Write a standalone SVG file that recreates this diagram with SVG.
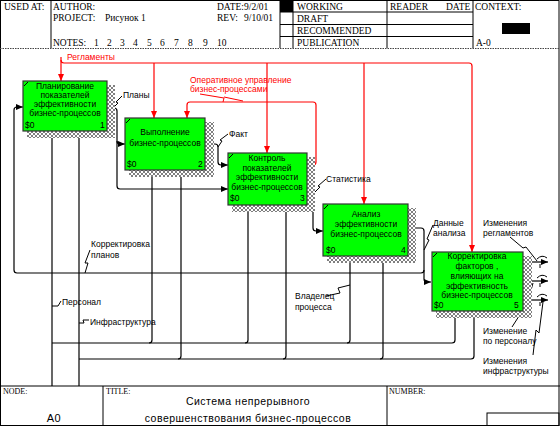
<svg xmlns="http://www.w3.org/2000/svg" width="560" height="426" viewBox="0 0 560 426">
<style>
.hd{font-family:"Liberation Serif",serif;font-size:9.5px;fill:#000}
.sm{font-family:"Liberation Serif",serif;font-size:8px;fill:#000}
.bx{font-family:"Liberation Sans",Arial,sans-serif;font-size:8.5px;fill:#000;text-anchor:middle}
.lb{font-family:"Liberation Sans",Arial,sans-serif;font-size:8.5px;fill:#000}
.rl{font-family:"Liberation Sans",Arial,sans-serif;font-size:8.5px;fill:#ff0000}
.num{font-family:"Liberation Sans",Arial,sans-serif;font-size:8.5px;fill:#000}
.ft{font-family:"Liberation Sans",Arial,sans-serif;font-size:10.5px;fill:#000;letter-spacing:0.5px;text-anchor:middle}
.fr{fill:none;stroke:#000;stroke-width:1}
.c{fill:none;stroke:#000;stroke-width:1.2}
.r{fill:none;stroke:#ff0000;stroke-width:1.2}
.ca{fill:none;stroke:#000;stroke-width:1.2;marker-end:url(#ah)}
.ra{fill:none;stroke:#ff0000;stroke-width:1.2;marker-end:url(#rh)}
.sq{fill:none;stroke:#000;stroke-width:1}
.box{fill:#00ff00;stroke:#333;stroke-width:1.2}
.sh{fill:url(#hatch)}
</style>
<defs>
<pattern id="hatch" width="4" height="4" patternUnits="userSpaceOnUse">
<rect width="4" height="4" fill="#fff"/>
<path d="M0,0 L4,4 M4,0 L0,4" stroke="#000" stroke-width="0.5"/>
</pattern>
<marker id="ah" markerWidth="7" markerHeight="6" refX="7" refY="3" orient="auto" markerUnits="userSpaceOnUse">
<path d="M0,0 L7,3 L0,6 z" fill="#000"/>
</marker>
<marker id="rh" markerWidth="7" markerHeight="6" refX="7" refY="3" orient="auto" markerUnits="userSpaceOnUse">
<path d="M0,0 L7,3 L0,6 z" fill="#ff0000"/>
</marker>
</defs>

<g id="frame">
<rect x="0.5" y="0.5" width="558.5" height="425" class="fr"/>
<line x1="51" y1="0" x2="51" y2="48" class="fr"/>
<line x1="280" y1="0" x2="280" y2="48" class="fr"/>
<line x1="293" y1="0" x2="293" y2="48" class="fr"/>
<line x1="387" y1="0" x2="387" y2="48" class="fr"/>
<line x1="473" y1="0" x2="473" y2="48" class="fr"/>
<line x1="280" y1="12" x2="473" y2="12" class="fr"/>
<line x1="280" y1="24.5" x2="473" y2="24.5" class="fr"/>
<line x1="280" y1="36.5" x2="473" y2="36.5" class="fr"/>
<rect x="280" y="0" width="13" height="12" fill="#000"/>
<rect x="502" y="23" width="28" height="11" fill="#000"/>
<line x1="0" y1="48.5" x2="560" y2="48.5" stroke="#444" stroke-width="1" stroke-dasharray="1.5,1"/>
<text x="4" y="10" class="hd">USED AT:</text>
<text x="53" y="10" class="hd">AUTHOR:</text>
<text x="53" y="21" class="hd">PROJECT:</text>
<text x="105" y="21" class="hd">Рисунок 1</text>
<text x="217" y="10" class="hd">DATE:</text>
<text x="244" y="10" class="hd">9/2/01</text>
<text x="217" y="21" class="hd">REV:</text>
<text x="244" y="21" class="hd">9/10/01</text>
<text x="53" y="46" class="hd">NOTES:</text>
<text x="94" y="46" class="hd">1</text>
<text x="107" y="46" class="hd">2</text>
<text x="120" y="46" class="hd">3</text>
<text x="133" y="46" class="hd">4</text>
<text x="147" y="46" class="hd">5</text>
<text x="160" y="46" class="hd">6</text>
<text x="174" y="46" class="hd">7</text>
<text x="188" y="46" class="hd">8</text>
<text x="203" y="46" class="hd">9</text>
<text x="217" y="46" class="hd">10</text>
<text x="297" y="10" class="hd">WORKING</text>
<text x="297" y="22" class="hd">DRAFT</text>
<text x="297" y="34" class="hd">RECOMMENDED</text>
<text x="297" y="46" class="hd">PUBLICATION</text>
<text x="390" y="10" class="hd">READER</text>
<text x="446" y="10" class="hd">DATE</text>
<text x="475" y="10" class="hd">CONTEXT:</text>
<text x="476" y="46" class="hd">A-0</text>
<line x1="0" y1="386" x2="560" y2="386" class="fr"/>
<line x1="103" y1="386" x2="103" y2="426" class="fr"/>
<line x1="387" y1="386" x2="387" y2="426" class="fr"/>
<rect x="487" y="413" width="72" height="13" class="fr"/>
<text x="3" y="394" class="sm">NODE:</text>
<text x="106" y="394" class="sm">TITLE:</text>
<text x="389" y="394" class="sm">NUMBER:</text>
<text x="54" y="422" class="ft" style="font-size:11px">A0</text>
<text x="248" y="405" class="ft">Система  непрерывного</text>
<text x="248" y="422" class="ft">совершенствования  бизнес-процессов</text>
</g>

<g id="connectors">
<path d="M61,57 V81" class="ra"/>
<path d="M61,60 Q61,63 64,63 H469 Q472,63 472,66 V252" class="ra"/>
<path d="M154,63 V118" class="ra"/>
<path d="M267,63 V153" class="ra"/>
<path d="M364,63 V204" class="ra"/>
<path d="M307,165 H313 Q316,165 316,162 V105 Q316,102 313,102 H190 Q187,102 187,105 V118" class="ra"/>
<path d="M107,108 H114 Q117,108 117,111 V186 Q117,189 120,189 H228" class="ca"/>
<path d="M117,141 Q117,144 120,144 H125" class="ca"/>
<path d="M205,144 H215 Q218,144 218,147 V162 Q218,165 221,165 H228" class="ca"/>
<path d="M307,190 H310 Q313,190 313,193 V228 Q313,231 316,231 H323" class="ca"/>
<path d="M408,228 H421 Q424,228 424,231 V279 Q424,282 427,282 H431" class="ca"/>
<path d="M424,270 Q424,273 421,273 H17 Q14,273 14,270 V110 Q14,107 17,107 H23" class="ca"/>
<path d="M52,386 V131" class="ca"/>
<path d="M52,343 H452 Q455,343 455,340 V311" class="ca"/>
<path d="M149,343 Q152,343 152,340 V170" class="ca"/>
<path d="M245,343 Q248,343 248,340 V205" class="ca"/>
<path d="M347,343 Q350,343 350,340 V256" class="ca"/>
<path d="M79,386 V131" class="ca"/>
<path d="M79,359 H471 Q474,359 474,356 V311" class="ca"/>
<path d="M178,359 Q181,359 181,356 V170" class="ca"/>
<path d="M283,359 Q286,359 286,356 V205" class="ca"/>
<path d="M380,359 Q383,359 383,356 V256" class="ca"/>
<path d="M523,262 H548" class="ca"/>
<path d="M523,281 H548" class="ca"/>
<path d="M523,300 H548" class="ca"/>
<path d="M537,259 Q542,254 547,258 M540,264 V268" class="sq"/>
<path d="M537,278 Q542,273 547,277 M540,283 V287" class="sq"/>
<path d="M537,297 Q542,292 547,296 M540,302 V306" class="sq"/>
<path d="M200,94 L224,98 L223,102 M224,97 L243,101" class="r" style="stroke-width:1"/>
<path d="M113,108 L118,103 L116,102 L122,96" class="sq"/>
<path d="M218,147 L222,141 L220,140 L228,134" class="sq"/>
<path d="M314,193 L320,187 L318,186 L326,179" class="sq"/>
<path d="M424,250 L429,240 L427,239 L433,225" class="sq"/>
<path d="M510,237 L523,248 L526,247 L537,261" class="sq"/>
<path d="M512,327 L521,313 L525,312 L533,283" class="sq"/>
<path d="M533,355 L536,330 L539,333 L543,302" class="sq"/>
<path d="M85,273 L88,263 L85,263 L90,250" class="sq"/>
<path d="M52,306 H58 L61,301" class="sq"/>
<path d="M79,323 H84 L83,320 L89,320" class="sq"/>
<path d="M326,296 L340,293 L338,288 L350,285" class="sq"/>
</g>

<g id="labels">
<text x="67" y="60" class="rl">Регламенты</text>
<text x="190" y="83" class="rl">Оперативное управление</text>
<text x="190" y="92" class="rl">бизнес-процессами</text>
<text x="123" y="98" class="lb">Планы</text>
<text x="229" y="137" class="lb">Факт</text>
<text x="326" y="182" class="lb">Статистика</text>
<text x="433" y="226" class="lb">Данные</text>
<text x="433" y="236" class="lb">анализа</text>
<text x="483" y="226" class="lb">Изменения</text>
<text x="483" y="236" class="lb">регламентов</text>
<text x="483" y="334" class="lb">Изменение</text>
<text x="483" y="344" class="lb">по персоналу</text>
<text x="483" y="364" class="lb">Изменения</text>
<text x="483" y="374" class="lb">инфраструктуры</text>
<text x="91" y="247" class="lb">Корректировка</text>
<text x="91" y="258" class="lb">планов</text>
<text x="62" y="305" class="lb">Персонал</text>
<text x="90" y="325" class="lb">Инфраструктура</text>
<text x="295" y="299" class="lb">Владелец</text>
<text x="295" y="310" class="lb">процесса</text>
</g>

<g id="box1">
<rect x="27" y="85" width="88" height="53" class="sh"/>
<rect x="23" y="81" width="84" height="50" class="box"/>
<line x1="24" y1="86" x2="28" y2="82" stroke="#000"/>
<text x="65" y="89" class="bx">Планирование</text>
<text x="65" y="98" class="bx">показателей</text>
<text x="65" y="107" class="bx">эффективности</text>
<text x="65" y="116" class="bx">бизнес-процессов</text>
<text x="25" y="128" class="num">$0</text>
<text x="100" y="128" class="num">1</text>
</g>

<g id="box2">
<rect x="129" y="122" width="85" height="55" class="sh"/>
<rect x="125" y="118" width="80" height="52" class="box"/>
<line x1="126" y1="123" x2="130" y2="119" stroke="#000"/>
<text x="165" y="135" class="bx">Выполнение</text>
<text x="165" y="146" class="bx">бизнес-процессов</text>
<text x="127" y="167" class="num">$0</text>
<text x="198" y="167" class="num">2</text>
</g>

<g id="box3">
<rect x="232" y="157" width="83" height="55" class="sh"/>
<rect x="228" y="153" width="79" height="52" class="box"/>
<line x1="229" y1="158" x2="233" y2="154" stroke="#000"/>
<text x="267" y="161" class="bx">Контроль</text>
<text x="267" y="171" class="bx">показателей</text>
<text x="267" y="180" class="bx">эффективности</text>
<text x="267" y="190" class="bx">бизнес-процессов</text>
<text x="230" y="201" class="num">$0</text>
<text x="300" y="201" class="num">3</text>
</g>

<g id="box4">
<rect x="327" y="208" width="89" height="55" class="sh"/>
<rect x="323" y="204" width="85" height="52" class="box"/>
<line x1="324" y1="209" x2="328" y2="205" stroke="#000"/>
<text x="366" y="217" class="bx">Анализ</text>
<text x="366" y="227" class="bx">эффективности</text>
<text x="366" y="237" class="bx">бизнес-процессов</text>
<text x="326" y="253" class="num">$0</text>
<text x="401" y="253" class="num">4</text>
</g>

<g id="box5">
<rect x="436" y="256" width="96" height="62" class="sh"/>
<rect x="432" y="252" width="91" height="59" class="box"/>
<line x1="433" y1="257" x2="437" y2="253" stroke="#000"/>
<text x="477" y="259" class="bx">Корректировка</text>
<text x="477" y="269" class="bx">факторов ,</text>
<text x="477" y="279" class="bx">влияющих на</text>
<text x="477" y="289" class="bx">эффективность</text>
<text x="477" y="298" class="bx">бизнес-процессов</text>
<text x="434" y="308" class="num">$0</text>
<text x="514" y="308" class="num">5</text>
</g>
</svg>
